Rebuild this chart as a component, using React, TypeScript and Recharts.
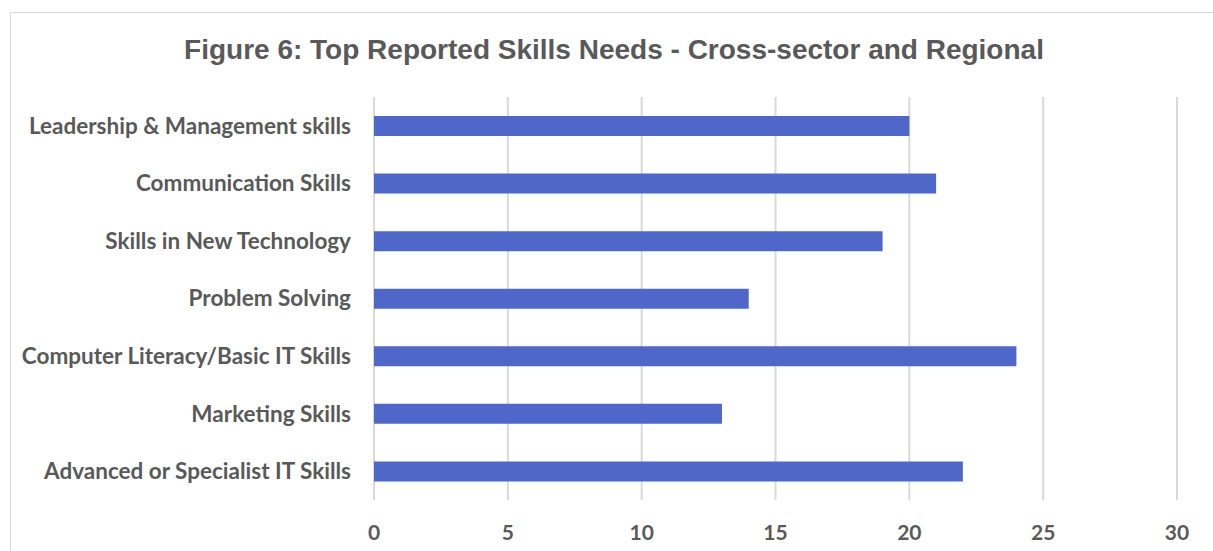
import { BarChart, Bar, XAxis, YAxis, CartesianGrid } from "recharts";

const skills = [
  "Leadership & Management skills",
  "Communication Skills",
  "Skills in New Technology",
  "Problem Solving",
  "Computer Literacy/Basic IT Skills",
  "Marketing Skills",
  "Advanced or Specialist IT Skills",
];
const counts = [20, 21, 19, 14, 24, 13, 22];
const xTicks = [0, 5, 10, 15, 20, 25, 30];

const data = skills.map((name, i) => ({ name, value: counts[i] }));

const TEXT = "#595959";
const GRID = "#d9d9d9";

export default function App() {
  return (
    <div style={{ position: "absolute", left: 0, top: 0, width: 1213, height: 551, background: "#fff", overflow: "hidden" }}>
      {/* chart frame, runs past the right and bottom edges */}
      <div
        style={{
          position: "absolute",
          left: 10,
          top: 12,
          width: 1240,
          height: 600,
          border: `1px solid ${GRID}`,
        }}
      />
      <div
        style={{
          position: "absolute",
          left: 0,
          width: 1228,
          top: 36,
          lineHeight: "28px",
          textAlign: "center",
          fontFamily: "'Liberation Sans', Arial, sans-serif",
          fontWeight: "bold",
          fontSize: 28,
          color: TEXT,
        }}
      >
        Figure 6: Top Reported Skills Needs - Cross-sector and Regional
      </div>
      <div style={{ position: "absolute", left: 0, top: 0 }}>
        <BarChart
          width={1213}
          height={551}
          data={data}
          layout="vertical"
          margin={{ top: 97, right: 36, bottom: 0, left: 0 }}
        >
          <CartesianGrid horizontal={false} stroke={GRID} strokeWidth={2} />
          <XAxis
            type="number"
            domain={[0, 30]}
            ticks={xTicks}
            axisLine={false}
            tickLine={false}
            tickSize={0}
            tickMargin={25}
            height={51}
            tick={{ fill: TEXT, fontSize: 21, fontWeight: "bold", fontFamily: "Lato, 'Open Sans', sans-serif" }}
          />
          <YAxis
            type="category"
            dataKey="name"
            width={374}
            axisLine={false}
            tickLine={false}
            tickSize={0}
            tickMargin={23}
            interval={0}
            tick={{ fill: TEXT, fontSize: 22.5, fontWeight: "bold", fontFamily: "Lato, 'Open Sans', sans-serif" }}
          />
          <Bar dataKey="value" fill="#4f67c9" barSize={20} isAnimationActive={false} />
        </BarChart>
      </div>
    </div>
  );
}
